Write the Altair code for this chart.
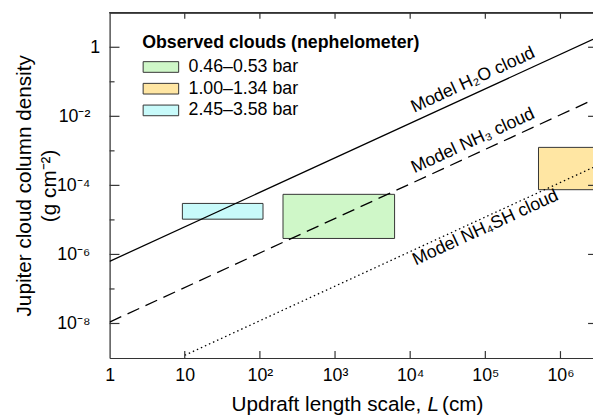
import altair as alt
import pandas as pd

FONT = "Liberation Sans"

# ---- Observed clouds (nephelometer) ----
cloud_ranges = ["0.46–0.53 bar", "1.00–1.34 bar", "2.45–3.58 bar"]
cloud_colors = ["#CFF7C8", "#FFE6A3", "#C8FAFA"]
box_L_lo = [203, 5.1e5, 9.3]
box_L_hi = [6200, 1.0e7, 110]
box_d_lo = [2.9e-6, 7.5e-5, 1.05e-5]
box_d_hi = [5.5e-5, 1.26e-3, 3.0e-5]

# ---- Model clouds (column density vs updraft length scale) ----
h2o_L = [1, 2.71e6]
h2o_d = [6.3e-7, 1.7]
nh3_L = [1, 2.71e6]
nh3_d = [1.1e-8, 3.0e-2]
nh4sh_L = [10, 2.71e6]
nh4sh_d = [1.2e-9, 3.3e-4]

# ---- model label anchors (on each curve) ----
model_labels = ["Model H₂O cloud", "Model NH₃ cloud", "Model NH₄SH cloud"]
label_L = [8.1e4, 8.1e4, 8.9e4]
label_d = [0.051, 8.9e-4, 1.07e-5]

# ---- axis ticks ----
x_label_values = [1, 10, 1e2, 1e3, 1e4, 1e5, 1e6]
x_tick_labels = ["1", "10", "10²", "10³", "10⁴", "10⁵", "10⁶"]
x_tick_values = [10, 1e2, 1e3, 1e4, 1e5, 1e6]
y_major_values = [1e-8, 1e-6, 1e-4, 1e-2, 1]
y_tick_labels = ["1", "10⁻²", "10⁻⁴", "10⁻⁶", "10⁻⁸"]
y_minor_values = [1e-7, 1e-5, 1e-3, 1e-1]

W, H = 490, 350

xscale = alt.Scale(type="log", domain=[1, 2.71e6], nice=False)
yscale = alt.Scale(type="log", domain=[1e-9, 10], nice=False)

x_expr = "[" + ",".join(f"'{s}'" for s in x_tick_labels) + "][round(log(datum.value)/LN10)]"
y_expr = "[" + ",".join(f"'{s}'" for s in y_tick_labels) + "][round(-log(datum.value)/LN10/2)]"

xaxis = alt.Axis(values=x_label_values, labelExpr=x_expr, ticks=False, tickSize=0,
                 grid=False, domain=True, domainColor="#333", domainWidth=1.2,
                 labelFontSize=18, labelFont=FONT, labelColor="black",
                 labelPadding=9, labelFlush=False, labelOverlap=False, title=None)
yaxis = alt.Axis(values=y_major_values, labelExpr=y_expr, ticks=False, tickSize=0,
                 grid=False, domain=True, domainColor="#333", domainWidth=1.2,
                 labelFontSize=18, labelFont=FONT, labelColor="black",
                 labelPadding=20, labelFlush=False, labelOverlap=False,
                 labelAlign={"condition": {"test": "datum.value == 1", "value": "left"}, "value": "right"},
                 title=["Jupiter cloud column density", "(g cm⁻²)"],
                 titleFontSize=21, titleFont=FONT, titleFontWeight="normal", titleColor="black",
                 titleAngle=270, titleAlign="center", titleBaseline="bottom",
                 titleX=-76, titleY=175, titleLineHeight=25)


def X(field):
    return alt.X(field, type="quantitative", scale=xscale, axis=xaxis)


def Y(field):
    return alt.Y(field, type="quantitative", scale=yscale, axis=yaxis)


boxes = pd.DataFrame({"range": cloud_ranges, "L0": box_L_lo, "L1": box_L_hi,
                      "d0": box_d_lo, "d1": box_d_hi})

rects = alt.Chart(boxes).mark_rect(stroke="#333", strokeWidth=1, clip=True).encode(
    x=X("L0"), x2="L1", y=Y("d0"), y2="d1",
    fill=alt.Fill("range:N", scale=alt.Scale(domain=cloud_ranges, range=cloud_colors),
                  legend=alt.Legend(orient="none", legendX=33, legendY=22, padding=0,
                                    title="Observed clouds (nephelometer)",
                                    titleFontSize=18, titleFontWeight="bold", titleFont=FONT,
                                    titleColor="black", titlePadding=6, titleLimit=500,
                                    labelFontSize=18, labelFont=FONT, labelColor="black",
                                    labelLimit=300,
                                    symbolType="M-3,-0.9H3V0.9H-3Z", symbolSize=144,
                                    symbolStrokeColor="#333", symbolStrokeWidth=1,
                                    symbolOpacity=1, symbolOffset=10, labelOffset=19,
                                    rowPadding=4)),
)


def model_line(L, d, dash):
    df = pd.DataFrame({"L": L, "d": d})
    props = dict(color="black", strokeWidth=1.3, clip=True)
    if dash:
        props["strokeDash"] = dash
    return alt.Chart(df).mark_line(**props).encode(x=X("L"), y=Y("d"))


l_h2o = model_line(h2o_L, h2o_d, None)
l_nh3 = model_line(nh3_L, nh3_d, [13, 7])
l_nh4sh = model_line(nh4sh_L, nh4sh_d, [1.5, 3])

labs = pd.DataFrame({"t": model_labels, "L": label_L, "d": label_d})
ANG = 335.3
lab_above = alt.Chart(labs.iloc[:2]).mark_text(angle=ANG, fontSize=18, font=FONT, align="center",
                                              baseline="alphabetic", dy=-8, color="black").encode(
    x=X("L"), y=Y("d"), text="t")
lab_below = alt.Chart(labs.iloc[2:]).mark_text(angle=ANG, fontSize=18, font=FONT, align="center",
                                              baseline="top", dy=1, color="black").encode(
    x=X("L"), y=Y("d"), text="t")

# tick marks (inward)
xt = pd.DataFrame({"v": x_tick_values})
ymaj = pd.DataFrame({"v": y_major_values})
ymin = pd.DataFrame({"v": y_minor_values})
tick_col = "#333"
t_bottom = alt.Chart(xt).mark_rule(color=tick_col, strokeWidth=1.2).encode(
    x=X("v"), y=alt.value(H - 7), y2=alt.value(H))
t_top = alt.Chart(xt).mark_rule(color=tick_col, strokeWidth=1.2).encode(
    x=X("v"), y=alt.value(0), y2=alt.value(6))
t_left = alt.Chart(ymaj).mark_rule(color=tick_col, strokeWidth=1.2).encode(
    y=Y("v"), x=alt.value(0), x2=alt.value(10))
t_left_minor = alt.Chart(ymin).mark_rule(color=tick_col, strokeWidth=1.2).encode(
    y=Y("v"), x=alt.value(0), x2=alt.value(5))
t_right = alt.Chart(ymaj).mark_rule(color=tick_col, strokeWidth=1.2).encode(
    y=Y("v"), x=alt.value(W - 5), x2=alt.value(W))
top_border = alt.Chart(xt).mark_rule(color=tick_col, strokeWidth=1.2).encode(
    y=alt.value(0), x=alt.value(0), x2=alt.value(W))

# x-axis title with italic L
one = pd.DataFrame({"a": [0]})
xt1 = alt.Chart(one).mark_text(text="Updraft length scale,", fontSize=21, font=FONT, align="right",
                               baseline="alphabetic", color="black").encode(
    x=alt.value(316), y=alt.value(404))
xt2 = alt.Chart(one).mark_text(text="L", fontSize=21, font=FONT, fontStyle="italic", align="center",
                               baseline="alphabetic", color="black").encode(
    x=alt.value(328), y=alt.value(404))
xt3 = alt.Chart(one).mark_text(text="(cm)", fontSize=21, font=FONT, align="left",
                               baseline="alphabetic", color="black").encode(
    x=alt.value(337), y=alt.value(404))

chart = alt.layer(
    rects, l_h2o, l_nh3, l_nh4sh, lab_above, lab_below,
    t_bottom, t_top, t_left, t_left_minor, t_right, top_border,
    xt1, xt2, xt3,
).properties(
    width=W, height=H,
    autosize=alt.AutoSizeParams(type="none"),
    padding={"left": 103, "top": 2, "right": 0, "bottom": 58},
).configure_view(stroke=None).configure(font=FONT)

chart.save("out.html", embed_options={"renderer": "svg", "actions": False})
